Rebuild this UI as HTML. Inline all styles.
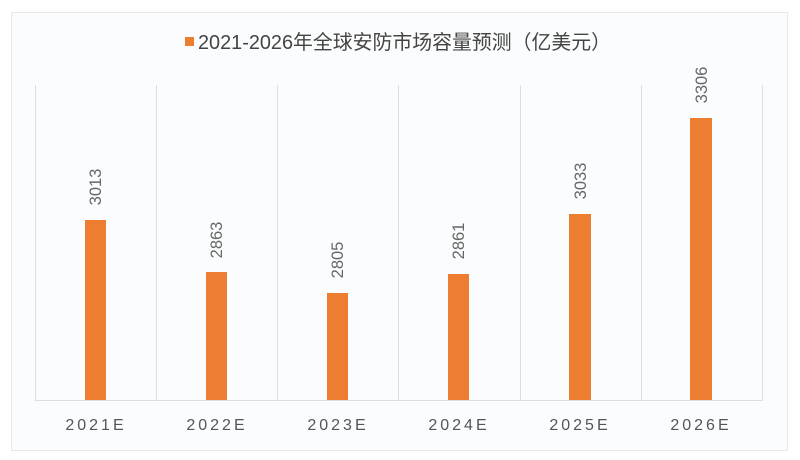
<!DOCTYPE html>
<html><head><meta charset="utf-8"><style>
html,body{margin:0;padding:0;background:#fff;}
svg{display:block;}
</style></head><body>
<svg width="800" height="460" xmlns="http://www.w3.org/2000/svg" font-family="Liberation Sans, Noto Sans CJK SC, sans-serif">
<rect x="0" y="0" width="800" height="460" fill="#fff"/>
<rect x="11.5" y="12.5" width="776" height="438" fill="#fbfcfd" stroke="#e6e8ea" stroke-width="1"/>
<rect x="185" y="37" width="9" height="9" fill="#ed7d31"/>
<text x="198" y="49" font-size="20" fill="#444" textLength="413" lengthAdjust="spacingAndGlyphs">2021-2026年全球安防市场容量预测（亿美元）</text>
<g stroke="#dcdfe2" stroke-width="1">
<line x1="35.5" y1="85" x2="35.5" y2="400"/>
<line x1="156.5" y1="85" x2="156.5" y2="400"/>
<line x1="277.5" y1="85" x2="277.5" y2="400"/>
<line x1="398.5" y1="85" x2="398.5" y2="400"/>
<line x1="520.5" y1="85" x2="520.5" y2="400"/>
<line x1="641.5" y1="85" x2="641.5" y2="400"/>
<line x1="762.5" y1="85" x2="762.5" y2="400"/>
<line x1="35" y1="400.5" x2="763" y2="400.5"/>
</g>
<g fill="#ed7d31">
<rect x="85" y="220" width="21" height="180"/>
<rect x="206" y="272" width="21" height="128"/>
<rect x="327" y="293" width="21" height="107"/>
<rect x="448" y="274" width="21" height="126"/>
<rect x="569" y="214" width="22" height="186"/>
<rect x="690" y="118" width="22" height="282"/>
</g>
<g font-size="16.5" fill="#666" text-anchor="middle">
<text transform="translate(101,187) rotate(-90)">3013</text>
<text transform="translate(222,240) rotate(-90)">2863</text>
<text transform="translate(343,260) rotate(-90)">2805</text>
<text transform="translate(464,241) rotate(-90)">2861</text>
<text transform="translate(586,181) rotate(-90)">3033</text>
<text transform="translate(707,85) rotate(-90)">3306</text>
</g>
<g font-size="16" fill="#555" text-anchor="middle" letter-spacing="3">
<text x="96" y="430">2021E</text>
<text x="217" y="430">2022E</text>
<text x="338" y="430">2023E</text>
<text x="459" y="430">2024E</text>
<text x="580" y="430">2025E</text>
<text x="701" y="430">2026E</text>
</g>
</svg>
</body></html>
